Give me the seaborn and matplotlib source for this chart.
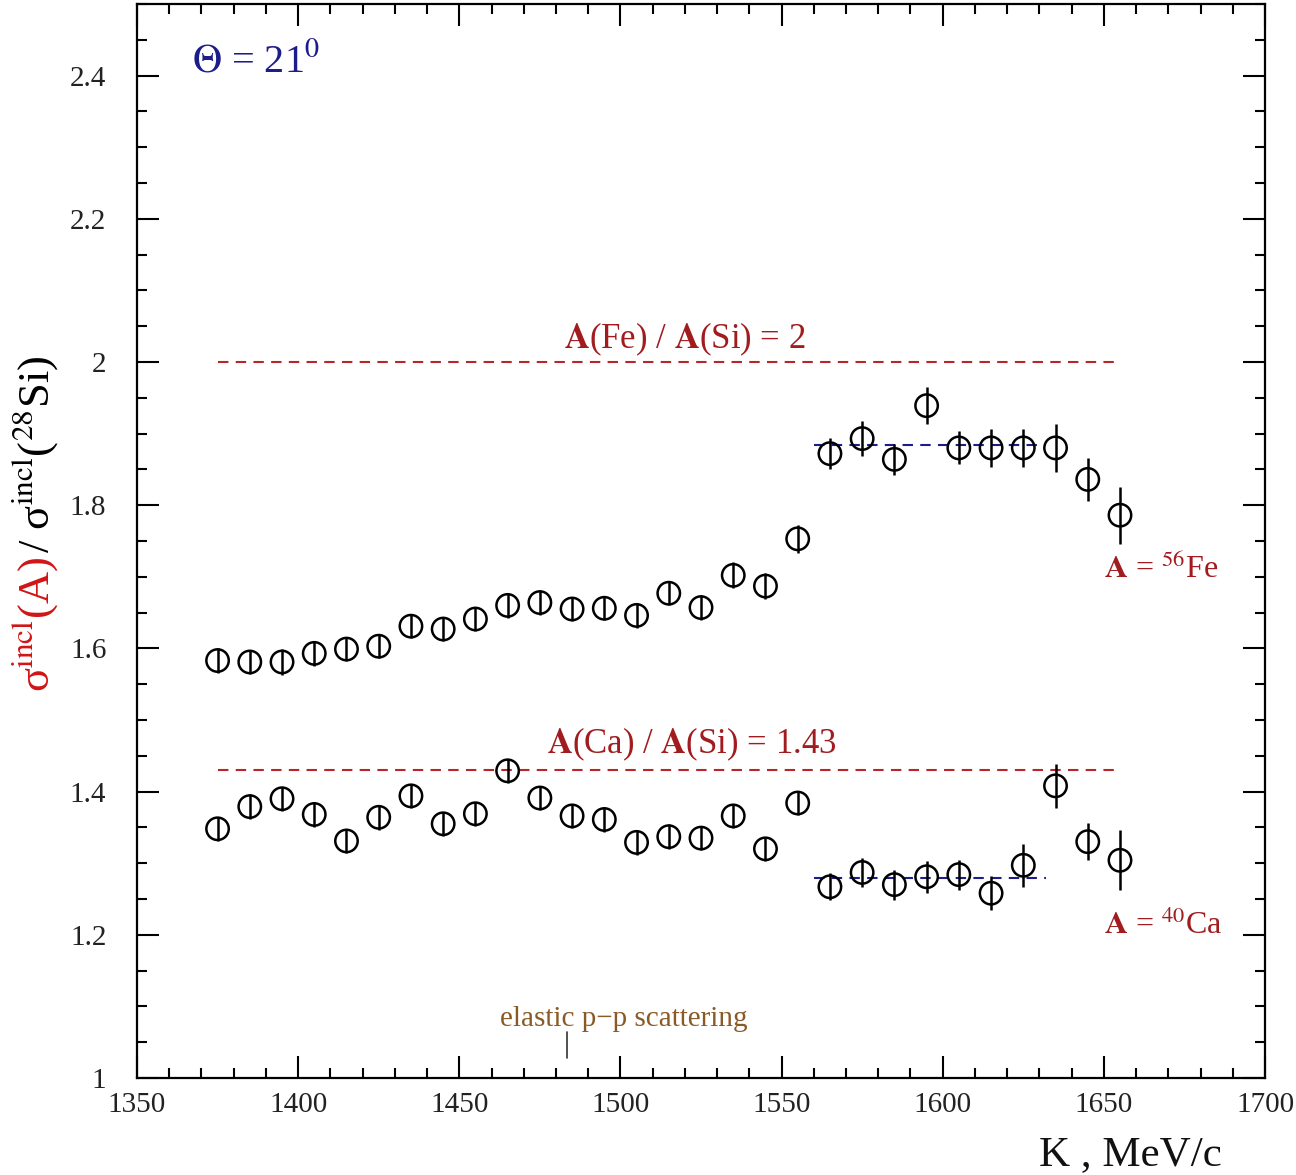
import numpy as np
import pandas as pd
import matplotlib
matplotlib.use("Agg")
import matplotlib.pyplot as plt
from matplotlib.ticker import MultipleLocator
import seaborn as sns

# Beam momentum bins, MeV/c
momentum = [1375, 1385, 1395, 1405, 1415, 1425, 1435, 1445, 1455, 1465,
            1475, 1485, 1495, 1505, 1515, 1525, 1535, 1545, 1555, 1565,
            1575, 1585, 1595, 1605, 1615, 1625, 1635, 1645, 1655]

# Inclusive cross-section ratio Fe/Si and its errors
ratio_fe = [1.583, 1.581, 1.581, 1.593, 1.599, 1.603, 1.631, 1.627, 1.641, 1.660,
            1.664, 1.655, 1.656, 1.646, 1.677, 1.657, 1.702, 1.687, 1.753, 1.872,
            1.893, 1.864, 1.939, 1.880, 1.880, 1.880, 1.880, 1.836, 1.786]
err_fe = [0.018, 0.017, 0.018, 0.017, 0.017, 0.017, 0.017, 0.017, 0.017, 0.018,
          0.017, 0.017, 0.017, 0.017, 0.017, 0.017, 0.018, 0.018, 0.020, 0.022,
          0.024, 0.022, 0.026, 0.023, 0.027, 0.027, 0.033, 0.030, 0.040]

# Inclusive cross-section ratio Ca/Si and its errors
ratio_ca = [1.348, 1.379, 1.390, 1.368, 1.331, 1.364, 1.394, 1.355, 1.369, 1.429,
            1.391, 1.366, 1.361, 1.329, 1.337, 1.335, 1.366, 1.320, 1.384, 1.267,
            1.287, 1.270, 1.281, 1.284, 1.258, 1.297, 1.408, 1.330, 1.304]
err_ca = [0.017, 0.017, 0.017, 0.017, 0.017, 0.017, 0.017, 0.017, 0.017, 0.017,
          0.017, 0.017, 0.017, 0.017, 0.017, 0.017, 0.017, 0.017, 0.017, 0.019,
          0.020, 0.021, 0.022, 0.021, 0.024, 0.030, 0.031, 0.026, 0.042]

# Mass-number ratios and plateau levels
a_ratio_fe = 2.0
a_ratio_ca = 1.43
plateau_fe = 1.884
plateau_ca = 1.279
plateau_range = [1560, 1632]
ref_range = [1375, 1655]
pp_elastic = 1483.5

sns.set_theme(style="ticks")
plt.rcParams["font.family"] = ["Liberation Serif", "DejaVu Serif"]
plt.rcParams["mathtext.fontset"] = "stix"

RED_LINE = "#b8262a"
RED_TXT = "#a11c1f"
NAVY = "#1c1c8a"
BROWN = "#8a5a26"

fig = plt.figure(figsize=(12.96, 11.75), dpi=100)
ax = fig.add_axes([0.1057, 0.0826, 0.8704, 0.914])

df = pd.DataFrame({
    "K": momentum * 2,
    "ratio": ratio_fe + ratio_ca,
    "err": err_fe + err_ca,
    "target": ["Fe"] * len(momentum) + ["Ca"] * len(momentum),
})

# reference lines A(X)/A(Si)
for level in (a_ratio_fe, a_ratio_ca):
    ax.plot(ref_range, [level, level], color=RED_LINE, lw=1.5,
            ls=(0, (5, 3.5)), zorder=1)

# plateau levels above 1560 MeV/c
for level in (plateau_fe, plateau_ca):
    ax.plot(plateau_range, [level, level], color=NAVY, lw=1.5,
            ls=(0, (5, 3.5)), zorder=1)

# error bars and open circle markers
ax.errorbar(df["K"], df["ratio"], yerr=df["err"], fmt="none",
            ecolor="black", elinewidth=1.8, capsize=0, zorder=2)
sns.scatterplot(data=df, x="K", y="ratio", ax=ax, marker="o", s=260,
                facecolors="none", edgecolor="black", linewidth=1.8,
                legend=False, zorder=3)

ax.set_xlim(1350, 1700)
ax.set_ylim(1.0, 2.5)
ax.xaxis.set_major_locator(MultipleLocator(50))
ax.xaxis.set_minor_locator(MultipleLocator(10))
ax.yaxis.set_minor_locator(MultipleLocator(0.05))
ax.set_yticks([1.0, 1.2, 1.4, 1.6, 1.8, 2.0, 2.2, 2.4])
ax.set_yticklabels(["1", "1.2", "1.4", "1.6", "1.8", "2", "2.2", "2.4"])
ax.tick_params(which="both", direction="in", top=True, right=True,
               color="black", labelsize=21, labelcolor="#222222")
ax.tick_params(which="major", length=16, width=1.5)
ax.tick_params(which="minor", length=7, width=1.5)
ax.tick_params(axis="x", which="major", pad=10)
ax.tick_params(axis="y", which="major", pad=22)
for sp in ax.spines.values():
    sp.set_linewidth(1.6)
    sp.set_color("black")
ax.set_xlabel("")
ax.set_ylabel("")

# annotations
ax.text(1520, 2.006, r"$\mathbf{A}$(Fe) / $\mathbf{A}$(Si) = 2", color=RED_TXT,
        fontsize=25, ha="center", va="bottom")
ax.text(1522, 1.440, r"$\mathbf{A}$(Ca) / $\mathbf{A}$(Si) = 1.43", color=RED_TXT,
        fontsize=25, ha="center", va="bottom")
ax.text(1650, 1.71, r"$\mathbf{A}$ = $^{56}$Fe", color=RED_TXT,
        fontsize=23, ha="left", va="center")
ax.text(1650, 1.212, r"$\mathbf{A}$ = $^{40}$Ca", color=RED_TXT,
        fontsize=23, ha="left", va="center")
ax.text(1367, 2.42, r"$\Theta$ = 21$^{0}$", color=NAVY, fontsize=29,
        ha="left", va="center")
ax.text(1501, 1.083, "elastic p\u2212p scattering", color=BROWN,
        fontsize=21, ha="center", va="center")
ax.plot([pp_elastic, pp_elastic], [1.028, 1.064], color="#333333", lw=1.2)

# x-axis title
fig.text(1222 / 1296, 1 - 1155 / 1175, "K , MeV/c", fontsize=31,
         ha="right", va="center", color="#111111")

# two-coloured y-axis title
renderer = fig.canvas.get_renderer()
red_part = fig.text(0.027, 1 - 692 / 1175, "\u03c3$^{\\rm incl}$(A)",
                    rotation=90, ha="center", va="bottom", color="#d01515",
                    fontsize=32)
bb = red_part.get_window_extent(renderer).transformed(fig.transFigure.inverted())
fig.text(0.027, bb.y1 + 0.003, "/ \u03c3$^{\\rm incl}$($^{28}$Si)",
         rotation=90, ha="center", va="bottom", color="black", fontsize=32)

fig.savefig("out.png", dpi=100)
